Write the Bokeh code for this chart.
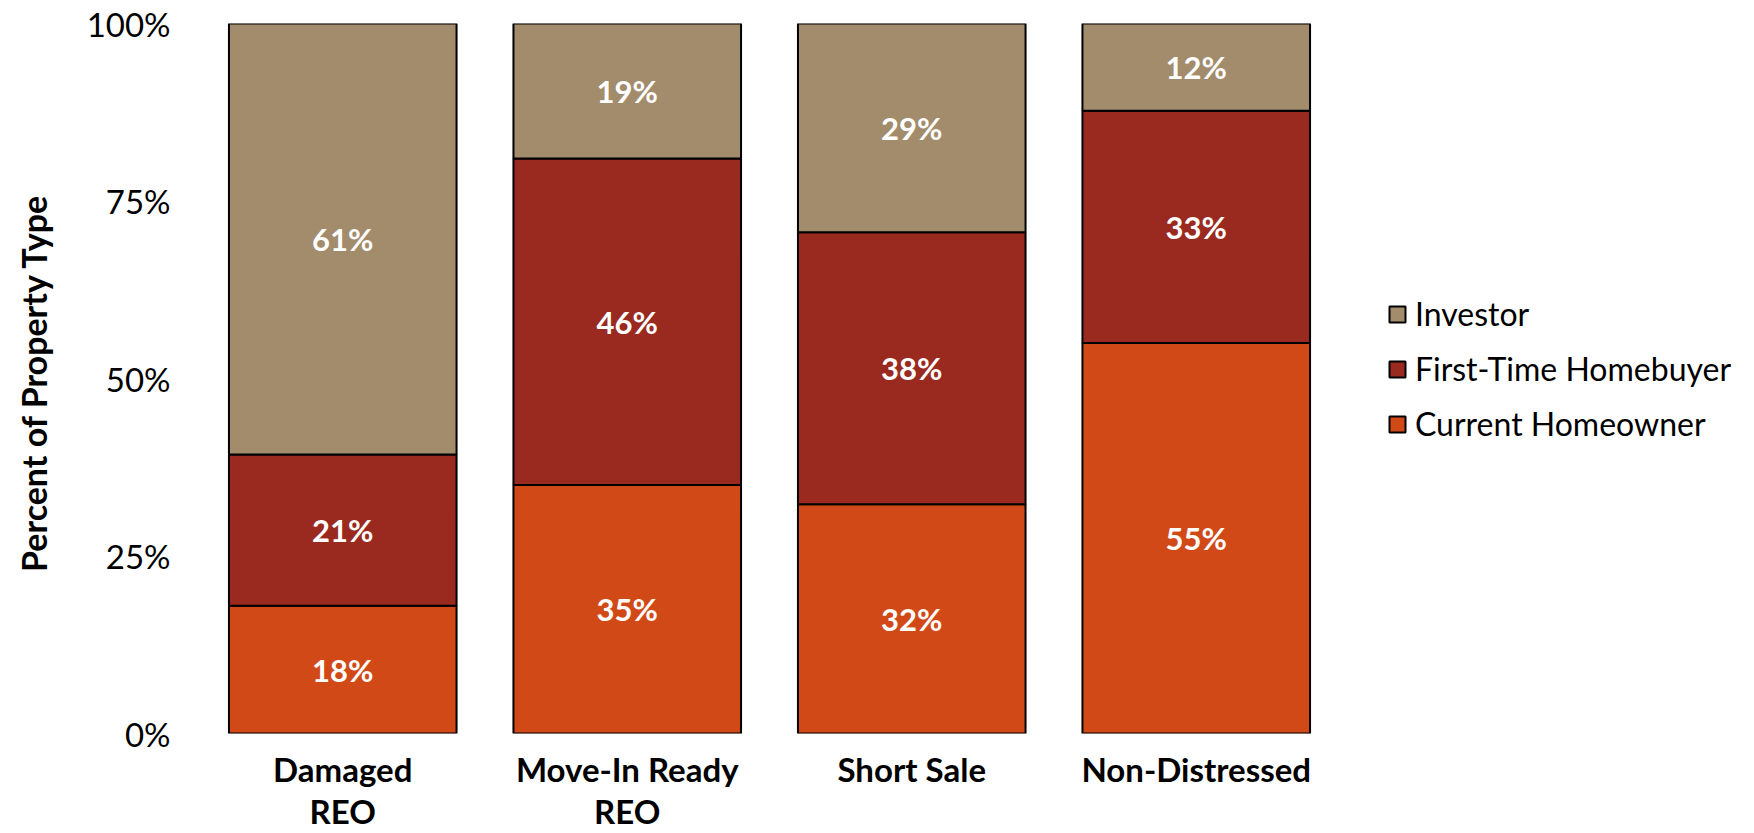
from bokeh.plotting import figure
from bokeh.layouts import row
from bokeh.models import (ColumnDataSource, FactorRange, FixedTicker, PrintfTickFormatter,
                          Legend, LegendItem, LabelSet, Range1d, CustomJSTickFormatter)
from bokeh.core.properties import value
from bokeh.embed import file_html
from bokeh.resources import INLINE

# ---- data ----
categories = ["Damaged REO", "Move-In Ready REO", "Short Sale", "Non-Distressed"]
category_labels = ["Damaged\nREO", "Move-In Ready\nREO", "Short Sale", "Non-Distressed"]
current_homeowner = [18.0, 35.0, 32.3, 55.0]
first_time_homebuyer = [21.3, 46.0, 38.3, 32.7]
investor = [60.7, 19.0, 29.4, 12.3]
series = ["current", "fthb", "investor"]
series_names = ["Current Homeowner", "First-Time Homebuyer", "Investor"]
colors = ["#D24918", "#9A2A1F", "#A28C6B"]
y_ticks = [0, 25, 50, 75, 100]

FONT = "Lato"

source = ColumnDataSource(dict(cat=categories, current=current_homeowner,
                               fthb=first_time_homebuyer, investor=investor))

p = figure(x_range=FactorRange(*categories), y_range=Range1d(0, 100),
           width=1338, height=833,
           min_border_left=200, min_border_top=23, min_border_bottom=97, min_border_right=0,
           output_backend="svg", toolbar_location=None, background_fill_color="white",
           border_fill_color="white")
p.outline_line_color = None
p.grid.visible = False

renderers = p.vbar_stack(series, x="cat", width=0.8, source=source, color=colors,
                         line_color="black", line_width=2)

# labels at segment centres
lab_x, lab_y, lab_t = [], [], []
for i, c in enumerate(categories):
    base = 0.0
    for vals in (current_homeowner, first_time_homebuyer, investor):
        v = vals[i]
        lab_x.append(c)
        lab_y.append(base + v / 2)
        lab_t.append(f"{round(v):d}%")
        base += v
lsrc = ColumnDataSource(dict(x=lab_x, y=lab_y, t=lab_t))
p.add_layout(LabelSet(x="x", y="y", text="t", source=lsrc, text_align="center",
                      text_baseline="middle", text_color="white", text_font=value(FONT),
                      text_font_style="bold", text_font_size="31px"))

# axes
ya = p.yaxis[0]
ya.ticker = FixedTicker(ticks=y_ticks)
ya.formatter = PrintfTickFormatter(format="%d%%")
ya.axis_line_color = None
ya.major_tick_line_color = None
ya.minor_tick_line_color = None
ya.major_tick_out = 0
ya.major_tick_in = 0
ya.major_label_standoff = 30
ya.major_label_text_font = FONT
ya.major_label_text_font_size = "33px"
ya.major_label_text_color = "black"
ya.axis_label = "Percent  of Property Type"
ya.axis_label_text_font = FONT
ya.axis_label_text_font_style = "bold"
ya.axis_label_text_font_size = "34px"
ya.axis_label_text_color = "black"
ya.axis_label_standoff = 30

xa = p.xaxis[0]
xa.axis_line_color = None
xa.major_tick_line_color = None
xa.minor_tick_line_color = None
xa.major_tick_out = 0
xa.major_tick_in = 0
xa.major_label_standoff = 15
xa.major_label_text_font = FONT
xa.major_label_text_font_style = "bold"
xa.major_label_text_font_size = "33px"
xa.major_label_text_line_height = 1.05
xa.major_label_text_color = "black"
xa.formatter = CustomJSTickFormatter(
    args=dict(keys=categories, labels=category_labels),
    code="const i = keys.indexOf(tick); return i >= 0 ? labels[i] : tick;")

# legend in a side figure
lp = figure(x_range=(0, 1), y_range=(0, 1), width=416, height=833,
            min_border_left=0, min_border_right=0, min_border_top=0, min_border_bottom=0,
            output_backend="svg", toolbar_location=None, outline_line_color=None,
            background_fill_color="white", border_fill_color="white")
lp.axis.visible = False
lp.grid.visible = False
offscreen = ColumnDataSource(dict(x=[float("nan")], top=[float("nan")], bottom=[float("nan")]))
dummies = [lp.vbar(x="x", top="top", bottom="bottom", width=0.1, source=offscreen,
                   fill_color=c, line_color="black", line_width=2) for c in colors]

legend = Legend(items=[LegendItem(label=series_names[2], renderers=[dummies[2]]),
                       LegendItem(label=series_names[1], renderers=[dummies[1]]),
                       LegendItem(label=series_names[0], renderers=[dummies[0]])],
                location=(49, 290), margin=0, padding=0, border_line_color=None,
                glyph_width=20, glyph_height=20, label_standoff=8, spacing=16,
                label_text_font=FONT, label_text_font_size="32px", label_height=36,
                label_text_color="black", background_fill_alpha=0)
lp.add_layout(legend, "center")

layout = row(p, lp, spacing=0)
open("out.html", "w").write(file_html(layout, INLINE))
